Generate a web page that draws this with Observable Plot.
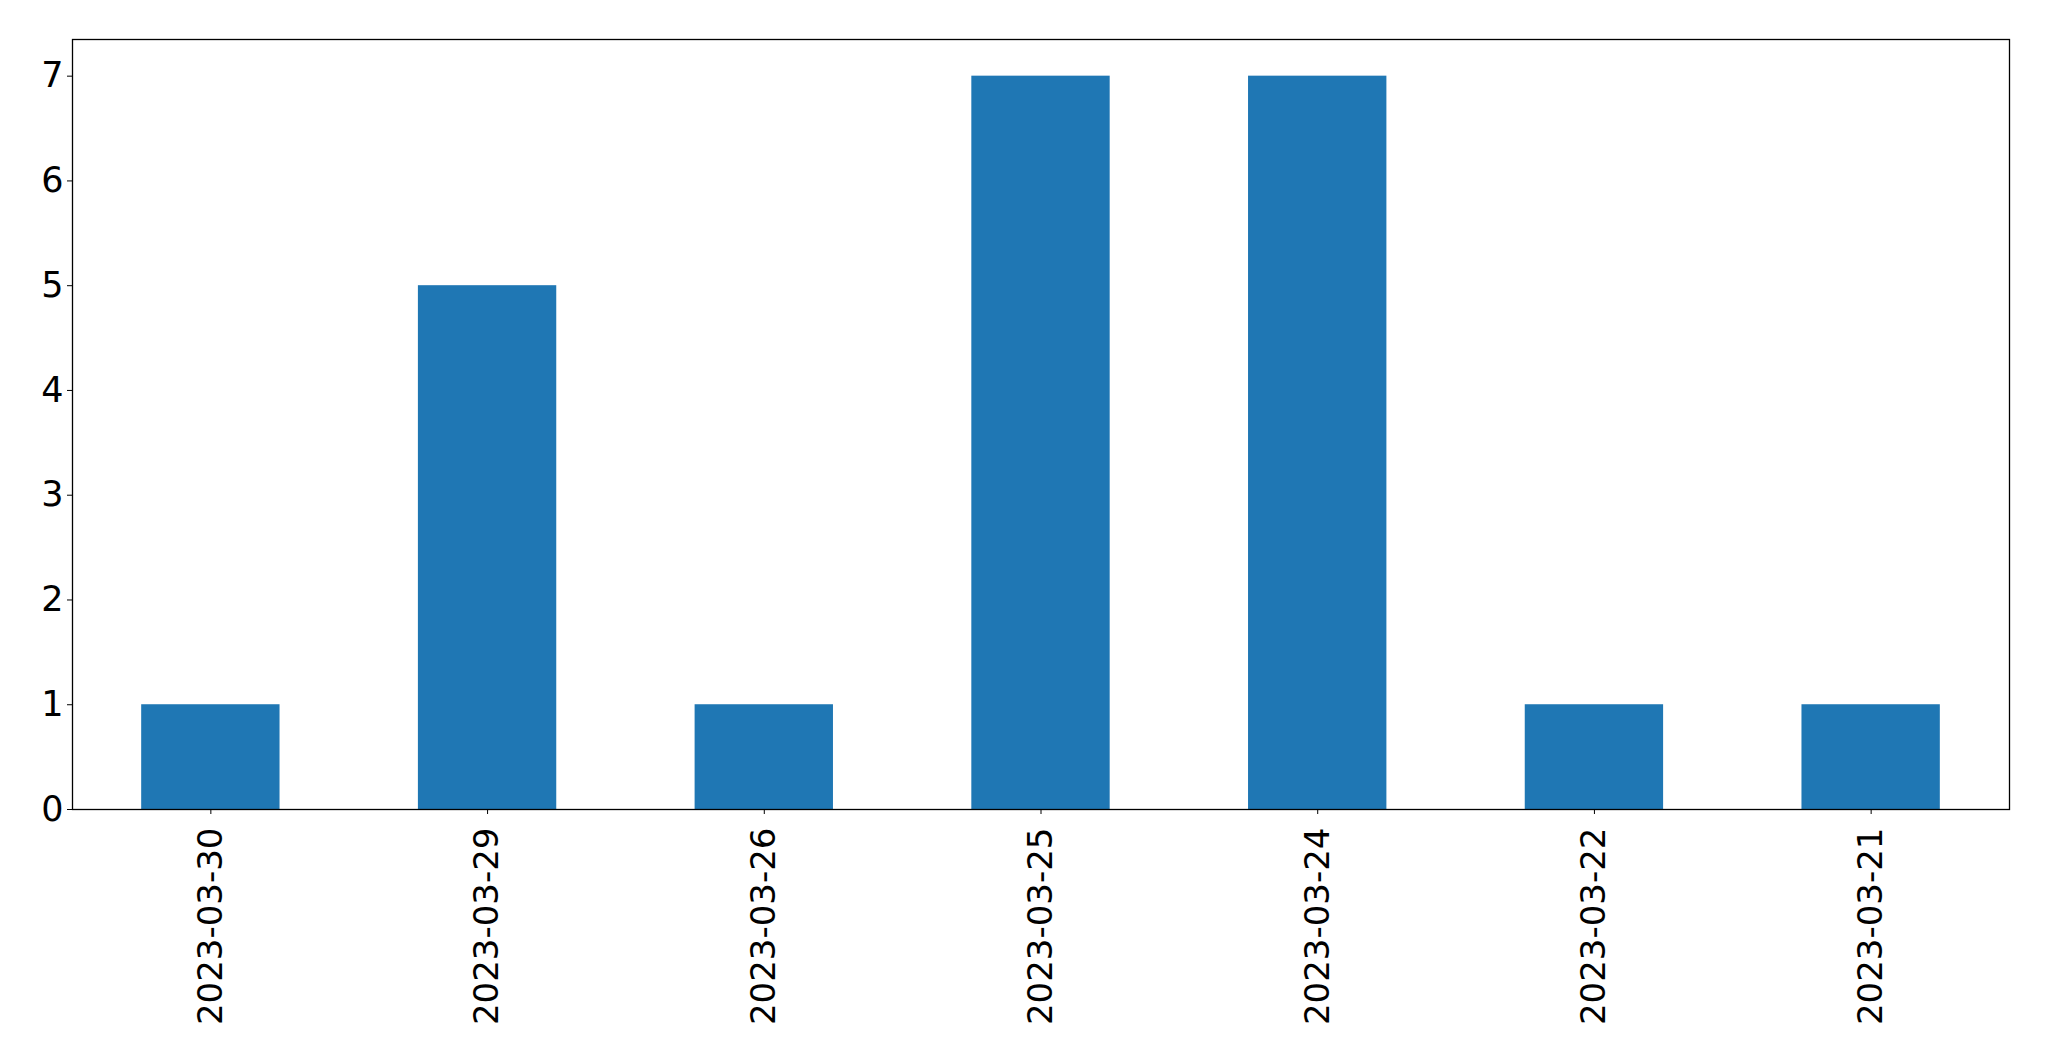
<!DOCTYPE html>
<html>
<head>
<meta charset="utf-8">
<script src="https://cdn.jsdelivr.net/npm/d3@7"></script>
<script src="https://cdn.jsdelivr.net/npm/@observablehq/plot@0.6"></script>
<style>
  html, body { margin: 0; padding: 0; background: #fff; }
  #chart svg { display: block; }
</style>
</head>
<body>
<div id="chart"></div>
<script>
const dates = ["2023-03-30", "2023-03-29", "2023-03-26", "2023-03-25", "2023-03-24", "2023-03-22", "2023-03-21"];
const counts = [1, 5, 1, 7, 7, 1, 1];
const yTicks = [0, 1, 2, 3, 4, 5, 6, 7];

const data = dates.map((d, i) => ({date: d, count: counts[i]}));

const chart = Plot.plot({
  width: 2049,
  height: 1061,
  marginLeft: 72,
  marginRight: 40,
  marginTop: 39,
  marginBottom: 252,
  style: {fontFamily: "DejaVu Sans", fontSize: "34px", color: "black", background: "white"},
  x: {domain: dates, paddingInner: 0.5, paddingOuter: 0.25, round: false, label: null},
  y: {domain: [0, 7.35], label: null},
  marks: [
    Plot.barY(data, {x: "date", y: "count", fill: "#1f77b4"}),
    Plot.axisY({ticks: yTicks, tickSize: 5, tickPadding: 4, fontSize: 35, label: null, tickFormat: d => String(d)}),
    Plot.axisX({tickRotate: -90, tickSize: 5, tickPadding: 13, fontSize: 34, label: null}),
    Plot.frame({stroke: "black", strokeWidth: 1.3})
  ]
});
document.getElementById("chart").appendChild(chart);
</script>
</body>
</html>
